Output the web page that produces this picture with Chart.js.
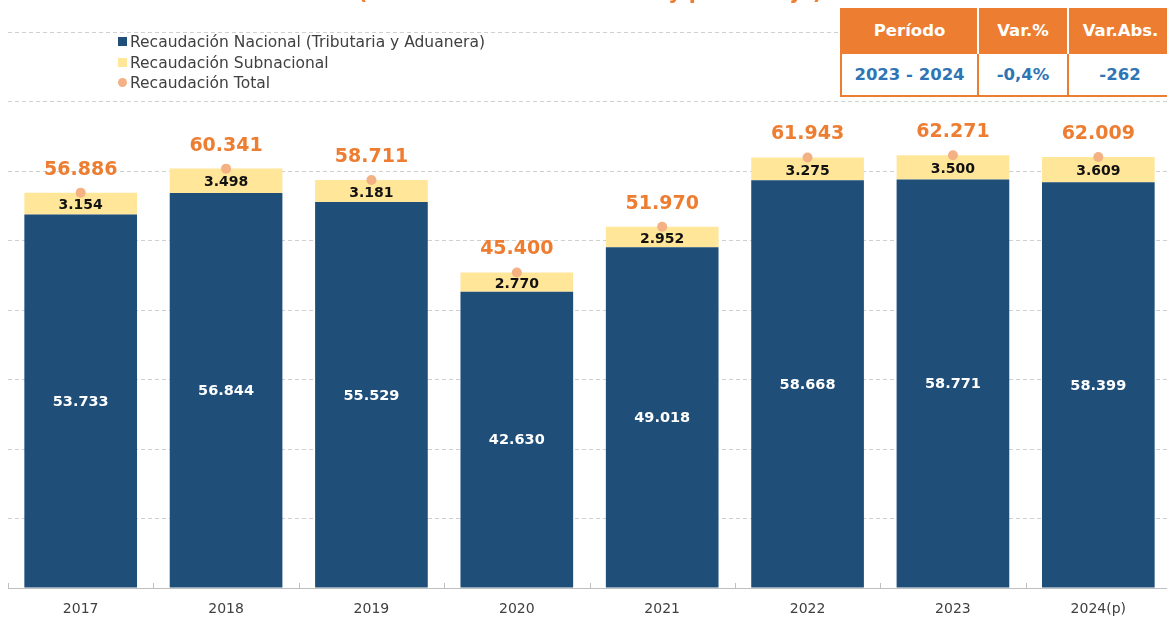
<!DOCTYPE html>
<html>
<head>
<meta charset="utf-8">
<script src="https://cdn.jsdelivr.net/npm/chart.js@4/dist/chart.umd.min.js"></script>
<style>
  html, body { margin:0; padding:0; background:#fff; overflow:hidden; width:1167px; height:618px; }
  #wrap { position:absolute; left:0; top:0; width:1176px; height:618px; }
  #title { position:absolute; left:358px; top:-18px; font: bold 20.5px "DejaVu Sans"; line-height:20px; color:#ED7D31; white-space:nowrap; }
  #legend { position:absolute; left:118px; top:32px; font: 15.5px "DejaVu Sans"; color:#404040; }
  #legend div { height:20.5px; line-height:20.5px; white-space:nowrap; }
  #legend span.m { display:inline-block; width:9px; height:9px; margin-right:3px; vertical-align:1px; }
  #tblwrap { position:absolute; left:840px; top:8px; width:331px; }
  #tbl { border-collapse:collapse; table-layout:fixed; width:331px; font: bold 16.5px "DejaVu Sans"; background:#fff; }
  #tbl td { text-align:center; padding:0; white-space:nowrap; }
  #tbl tr.h td { background:#ED7D31; color:#fff; height:44px; border-left:2px solid #fff; }
  #tbl tr.h td:first-child { border-left:2px solid #ED7D31; }
  #tbl tr.r td { color:#2E75B6; height:41px; border:2px solid #ED7D31; }
</style>
</head>
<body>
<div id="wrap"><canvas id="c" width="1176" height="618"></canvas></div>
<div id="title">(En millones de bolivianos y porcentaje)</div>
<div id="legend"></div>
<div id="tblwrap"><table id="tbl"><colgroup><col style="width:137px"><col style="width:90px"><col style="width:104px"></colgroup><tbody></tbody></table></div>
<script>
const categories = ['2017','2018','2019','2020','2021','2022','2023','2024(p)'];
const nacional   = [53733, 56844, 55529, 42630, 49018, 58668, 58771, 58399];
const subnacional= [3154, 3498, 3181, 2770, 2952, 3275, 3500, 3609];
const total      = [56886, 60341, 58711, 45400, 51970, 61943, 62271, 62009];
const seriesNames = ['Recaudación Nacional (Tributaria y Aduanera)','Recaudación Subnacional','Recaudación Total'];
const tableHeader = ['Período','Var.%','Var.Abs.'];
const tableRow    = ['2023 - 2024','-0,4%','-262'];
const yTicks = [0,10000,20000,30000,40000,50000,60000,70000,80000];

const C_NAC = '#1F4E79', C_SUB = '#FFE699', C_TOT = '#F4B183', C_LAB = '#ED7D31';

// legend
const lg = document.getElementById('legend');
[[C_NAC,'0'],[C_SUB,'0'],[C_TOT,'50%']].forEach((m,i)=>{
  const d = document.createElement('div');
  d.innerHTML = '<span class="m" style="background:'+m[0]+';border-radius:'+m[1]+'"></span>' + seriesNames[i];
  lg.appendChild(d);
});
// table
const tb = document.querySelector('#tbl tbody');
let h = '<tr class="h">' + tableHeader.map(t=>'<td>'+t+'</td>').join('') + '</tr>';
h += '<tr class="r">' + tableRow.map(t=>'<td>'+t+'</td>').join('') + '</tr>';
tb.innerHTML = h;

const fmt = v => v.toLocaleString('de-DE');

const labelsPlugin = {
  id:'labels',
  afterDatasetsDraw(chart){
    const ctx = chart.ctx;
    const m0 = chart.getDatasetMeta(0), m1 = chart.getDatasetMeta(1), m2 = chart.getDatasetMeta(2);
    ctx.save();
    ctx.textAlign = 'center'; ctx.textBaseline = 'middle';
    categories.forEach((c,i)=>{
      const b0 = m0.data[i], b1 = m1.data[i], p = m2.data[i];
      ctx.font = 'bold 14.5px "DejaVu Sans"'; ctx.fillStyle = '#fff';
      ctx.fillText(fmt(nacional[i]), b0.x, (b0.y + b0.base)/2 + 1);
      ctx.font = 'bold 14px "DejaVu Sans"'; ctx.fillStyle = '#111';
      ctx.fillText(fmt(subnacional[i]), b1.x, (b1.y + b1.base)/2 + 2);
      ctx.font = 'bold 19px "DejaVu Sans"'; ctx.fillStyle = C_LAB;
      ctx.fillText(fmt(total[i]), p.x, p.y - 23);
    });
    ctx.restore();
  },
  afterDraw(chart){
    const ctx = chart.ctx, xs = chart.scales.x, a = chart.chartArea;
    ctx.save(); ctx.strokeStyle = '#BFBFBF'; ctx.lineWidth = 1;
    for (let i=0;i<=categories.length;i++){
      const x = Math.round(xs.getPixelForValue(i-0.5)) + 0.5;
      ctx.beginPath(); ctx.moveTo(x, a.bottom); ctx.lineTo(x, a.bottom-5); ctx.stroke();
    }
    ctx.restore();
  }
};

new Chart(document.getElementById('c'), {
  type:'bar',
  data:{
    labels: categories,
    datasets:[
      {label:seriesNames[0], data:nacional, backgroundColor:C_NAC, stack:'s', order:2, barPercentage:0.775, categoryPercentage:1},
      {label:seriesNames[1], data:subnacional, backgroundColor:C_SUB, stack:'s', order:2, barPercentage:0.775, categoryPercentage:1},
      {label:seriesNames[2], data:total, type:'line', showLine:false, pointRadius:5, pointHoverRadius:5,
       pointBackgroundColor:C_TOT, pointBorderWidth:0, backgroundColor:C_TOT, borderColor:C_TOT, order:1}
    ]
  },
  options:{
    responsive:false, animation:false,
    layout:{ padding:{ left:8, top:32, right:1, bottom:0 } },
    plugins:{ legend:{display:false}, tooltip:{enabled:false}, title:{display:false} },
    scales:{
      x:{
        stacked:true,
        grid:{ display:false, drawTicks:false },
        border:{ display:true, color:'#BFBFBF', width:1 },
        ticks:{ font:{ family:'DejaVu Sans', size:14 }, color:'#404040', padding:13 },
        afterFit(s){ s.height = 30; }
      },
      y:{
        stacked:true, min:0, max:80000,
        afterBuildTicks(s){ s.ticks = yTicks.map(v=>({value:v})); },
        ticks:{ display:false },
        grid:{ color:'#D0D0D0', drawTicks:false, lineWidth:1 },
        border:{ display:false, dash:[4,3] },
        afterFit(s){ s.width = 0; }
      }
    }
  },
  plugins:[labelsPlugin]
});
</script>
</body>
</html>
